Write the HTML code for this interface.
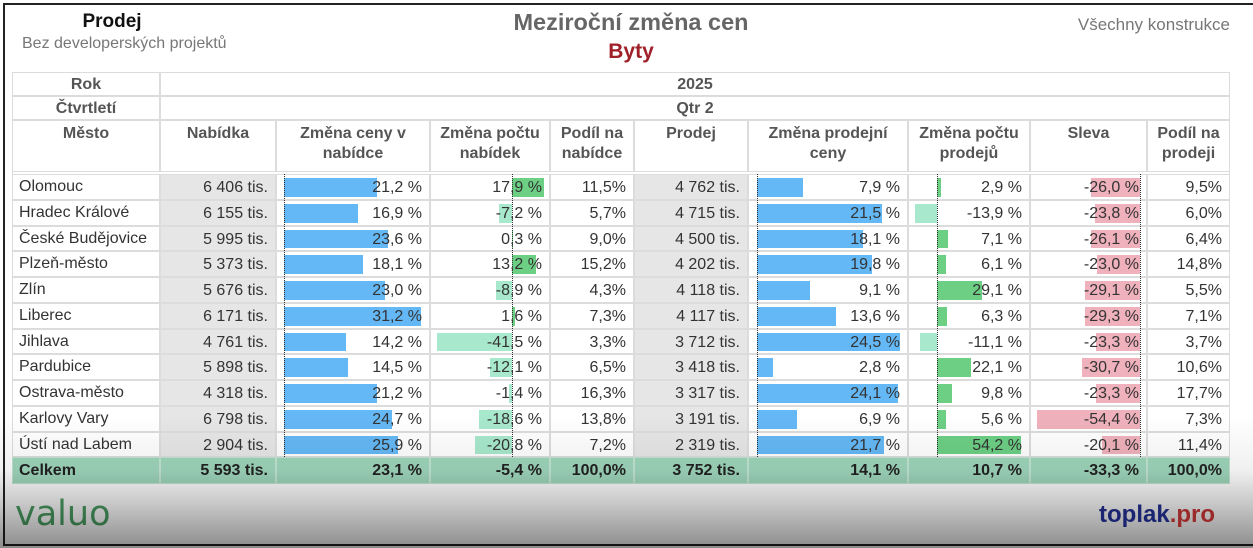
<!DOCTYPE html>
<html><head><meta charset="utf-8">
<style>
body{margin:0;width:1253px;height:548px;overflow:hidden;background:#fff;font-family:"Liberation Sans",sans-serif;position:relative}
.a{position:absolute;box-sizing:border-box}
.frame{left:3px;top:3px;width:1260px;height:543px;border:2px solid #222;}
.t{white-space:nowrap}
.hd{font-weight:bold;color:#555;font-size:16px;text-align:center;line-height:20px}
.cell{font-size:16px;color:#333;line-height:26px}
.ov{left:0;top:0;width:1253px;height:548px;pointer-events:none;background:linear-gradient(to bottom,rgba(0,0,0,0) 0px,rgba(0,0,0,0) 415px,rgba(0,0,0,0.06) 470px,rgba(0,0,0,0.2) 500px,rgba(0,0,0,0.45) 548px)}
</style></head><body>
<div class="a frame"></div>
<div class="a t" style="left:0;width:224px;top:11px;text-align:center;font-weight:bold;font-size:19px;color:#111">Prodej</div>
<div class="a t" style="left:22px;top:35px;font-size:16px;color:#777">Bez developerských projektů</div>
<div class="a t" style="left:400px;width:462px;top:9px;text-align:center;font-weight:bold;font-size:23.5px;color:#666">Meziroční změna cen</div>
<div class="a t" style="left:400px;width:462px;top:40px;text-align:center;font-weight:bold;font-size:21px;color:#a0202a">Byty</div>
<div class="a t" style="right:23px;top:15px;font-size:17px;color:#777">Všechny konstrukce</div>
<div id="tb"></div>
<div class="a t" style="left:15px;top:494px;font-size:35px;color:#4a9e62;font-family:'DejaVu Sans',sans-serif">valuo</div>
<div class="a ov"></div>
<div class="a t" style="left:1099px;top:501px;font-size:24px;font-weight:bold;color:#1a2470">toplak<span style="color:#9b2a2a">.pro</span></div>
<script>
const C=[12,160,276,430,550,634,748,908,1030,1147,1230];
const tb=document.getElementById('tb');
function box(x,y,w,h,st,html,cls){const d=document.createElement('div');d.className='a '+(cls||'');d.style.cssText=`left:${x}px;top:${y}px;width:${w}px;height:${h}px;`+(st||'');if(html!==undefined)d.innerHTML=html;tb.appendChild(d);return d;}
const bc='#dcdcdc';
box(12,72,1218,412,'border:1px solid '+bc);
[[72,'Rok','2025'],[96,'Čtvrtletí','Qtr 2']].forEach(r=>{
 box(12,r[0],148,24,'border:1px solid '+bc+';padding-top:2px',r[1],'hd');
 box(160,r[0],1070,24,'border:1px solid '+bc+';padding-top:2px',r[2],'hd');
});
const H=['Město','Nabídka','Změna ceny v<br>nabídce','Změna počtu<br>nabídek','Podíl na<br>nabídce','Prodej','Změna prodejní<br>ceny','Změna počtu<br>prodejů','Sleva','Podíl na<br>prodeji'];
H.forEach((h,i)=>box(C[i],120,C[i+1]-C[i],52,'border:1px solid '+bc+';padding-top:3px',h,'hd'));
const D=[
['Olomouc','6 406 tis.',21.2,17.9,'11,5%','4 762 tis.',7.9,2.9,-26.0,'9,5%'],
['Hradec Králové','6 155 tis.',16.9,-7.2,'5,7%','4 715 tis.',21.5,-13.9,-23.8,'6,0%'],
['České Budějovice','5 995 tis.',23.6,0.3,'9,0%','4 500 tis.',18.1,7.1,-26.1,'6,4%'],
['Plzeň-město','5 373 tis.',18.1,13.2,'15,2%','4 202 tis.',19.8,6.1,-23.0,'14,8%'],
['Zlín','5 676 tis.',23.0,-8.9,'4,3%','4 118 tis.',9.1,29.1,-29.1,'5,5%'],
['Liberec','6 171 tis.',31.2,1.6,'7,3%','4 117 tis.',13.6,6.3,-29.3,'7,1%'],
['Jihlava','4 761 tis.',14.2,-41.5,'3,3%','3 712 tis.',24.5,-11.1,-23.3,'3,7%'],
['Pardubice','5 898 tis.',14.5,-12.1,'6,5%','3 418 tis.',2.8,22.1,-30.7,'10,6%'],
['Ostrava-město','4 318 tis.',21.2,-1.4,'16,3%','3 317 tis.',24.1,9.8,-23.3,'17,7%'],
['Karlovy Vary','6 798 tis.',24.7,-18.6,'13,8%','3 191 tis.',6.9,5.6,-54.4,'7,3%'],
['Ústí nad Labem','2 904 tis.',25.9,-20.8,'7,2%','2 319 tis.',21.7,54.2,-20.1,'11,4%']];
const f=v=>v.toFixed(1).replace('.',',')+' %';
const B={2:[284,4.39,'#64b8f5','#64b8f5'],3:[512,1.8,'#6ccf84','#a8e8cc'],6:[757,5.83,'#64b8f5','#64b8f5'],7:[937,1.55,'#6ccf84','#a8e8cc'],8:[1140,1.89,'#6ccf84','#efb1bb']};
const R0=174,RH=25.75;
D.forEach((r,k)=>{
 const y=Math.round(R0+k*RH),h=Math.round(R0+(k+1)*RH)-y;
 r.forEach((v,i)=>{
  const x=C[i],w=C[i+1]-C[i];
  const bg=(i==1||i==5)?'background:#e6e6e6;':'';
  box(x,y,w,h,bg+'border:1px solid '+bc);
  if(B[i]){const[ax,s,pc,nc]=B[i];const L=Math.abs(v)*s;
   const bx=v>=0?ax:ax-L;box(bx,y+4,L,h-7,'background:'+(v>=0?pc:nc));}
  const txt=typeof v==='number'?f(v):v;
  if(i==0)box(x+7,y,w-7,h,'',txt,'cell t');
  else box(x,y+1,w-8,h,'text-align:right',txt,'cell t');
 });
});
Object.values(B).forEach(b=>box(b[0],174,0,283,'border-left:1px dotted #333'));
const T=['Celkem','5 593 tis.','23,1 %','-5,4 %','100,0%','3 752 tis.','14,1 %','10,7 %','-33,3 %','100,0%'];
T.forEach((v,i)=>{const x=C[i],w=C[i+1]-C[i];
 box(x,457,w,27,'background:#9ed6bb;border:1px solid #c2e4d2');
 box(x+(i==0?7:0),458,w-(i==0?7:8),26,i==0?'':'text-align:right;','<b>'+v+'</b>','cell t').style.color='#222';});
</script>
</body></html>
